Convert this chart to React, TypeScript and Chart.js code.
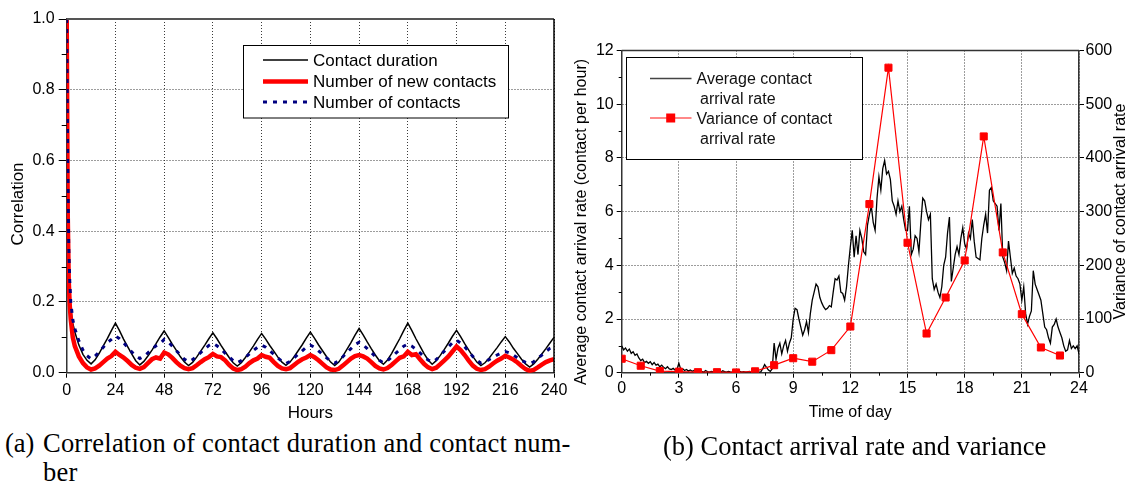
import React, { useEffect, useRef } from 'react';
import { Chart, registerables } from 'chart.js';

Chart.register(...registerables);

const FONT = '"Liberation Sans", Arial, Helvetica, sans-serif';
const SERIF = '"Liberation Serif", "Times New Roman", serif';

// ---------- Chart (a): correlation vs hours ----------
const hours = [
  0, 0.5, 1, 1.5, 2, 3, 4, 6, 8, 10, 12, 14, 16, 18, 20, 22, 24, 26, 28, 30, 32, 34, 36, 38, 40, 42, 44, 46, 48,
  50, 52, 54, 56, 58, 60, 62, 64, 66, 68, 70, 72, 74, 76, 78, 80, 82, 84, 86, 88, 90, 92, 94, 96, 98, 100,
  102, 104, 106, 108, 110, 112, 114, 116, 118, 120, 122, 124, 126, 128, 130, 132, 134, 136, 138, 140, 142, 144,
  146, 148, 150, 152, 154, 156, 158, 160, 162, 164, 166, 168, 170, 172, 174, 176, 178, 180, 182, 184, 186, 188,
  190, 192, 194, 196, 198, 200, 202, 204, 206, 208, 210, 212, 214, 216, 218, 220, 222, 224, 226, 228, 230, 232,
  234, 236, 238, 240,
];

const contactDuration = [
  1.0, 0.55, 0.3, 0.22, 0.18, 0.14, 0.115, 0.078, 0.052, 0.035, 0.025,
  0.0365, 0.055, 0.0756, 0.0963, 0.119, 0.14,
  0.119, 0.095, 0.074, 0.053, 0.034, 0.022,
  0.032, 0.047, 0.064, 0.082, 0.101, 0.118,
  0.1, 0.081, 0.063, 0.045, 0.03, 0.02,
  0.029, 0.044, 0.061, 0.078, 0.096, 0.113,
  0.096, 0.077, 0.06, 0.043, 0.028, 0.019,
  0.028, 0.043, 0.059, 0.076, 0.094, 0.111,
  0.095, 0.077, 0.061, 0.044, 0.03, 0.021,
  0.03, 0.045, 0.062, 0.079, 0.098, 0.115,
  0.098, 0.079, 0.062, 0.045, 0.03, 0.02,
  0.03, 0.047, 0.066, 0.085, 0.106, 0.125,
  0.107, 0.087, 0.068, 0.05, 0.034, 0.024,
  0.036, 0.054, 0.075, 0.096, 0.119, 0.14,
  0.119, 0.096, 0.075, 0.054, 0.036, 0.024,
  0.034, 0.049, 0.066, 0.084, 0.103, 0.12,
  0.102, 0.082, 0.064, 0.046, 0.03, 0.02,
  0.028, 0.041, 0.056, 0.071, 0.087, 0.102,
  0.087, 0.069, 0.054, 0.038, 0.025, 0.016,
  0.025, 0.038, 0.053, 0.068, 0.084, 0.1,
];

const newContacts = [
  1.0, 0.45, 0.26, 0.19, 0.15, 0.1, 0.075, 0.046, 0.027, 0.015, 0.009,
  0.012, 0.02, 0.03, 0.04, 0.047, 0.059,
  0.05, 0.043, 0.033, 0.022, 0.014, 0.011,
  0.016, 0.027, 0.038, 0.043, 0.04, 0.057,
  0.052, 0.042, 0.03, 0.02, 0.013, 0.01,
  0.013, 0.021, 0.03, 0.038, 0.044, 0.053,
  0.046, 0.044, 0.035, 0.022, 0.012, 0.0075,
  0.01, 0.017, 0.027, 0.035, 0.04, 0.05,
  0.045, 0.042, 0.03, 0.019, 0.012, 0.01,
  0.013, 0.022, 0.031, 0.038, 0.043, 0.05,
  0.044, 0.035, 0.025, 0.015, 0.009, 0.0075,
  0.011, 0.02, 0.03, 0.04, 0.047, 0.05,
  0.046, 0.04, 0.03, 0.019, 0.012, 0.009,
  0.013, 0.022, 0.032, 0.042, 0.046, 0.059,
  0.05, 0.052, 0.038, 0.025, 0.015, 0.01,
  0.014, 0.024, 0.035, 0.046, 0.06, 0.074,
  0.064, 0.05, 0.034, 0.02, 0.011, 0.0075,
  0.01, 0.017, 0.026, 0.034, 0.04, 0.048,
  0.043, 0.037, 0.029, 0.019, 0.01, 0.005,
  0.008, 0.015, 0.023, 0.03, 0.035, 0.038,
];

const numContacts = [
  1.0, 0.6, 0.36, 0.26, 0.2, 0.15, 0.125, 0.09, 0.064, 0.048, 0.039,
  0.047, 0.059, 0.072, 0.085, 0.094, 0.104,
  0.096, 0.085, 0.072, 0.059, 0.048, 0.04,
  0.046, 0.056, 0.067, 0.076, 0.082, 0.094,
  0.087, 0.075, 0.062, 0.05, 0.038, 0.031,
  0.037, 0.047, 0.057, 0.067, 0.077, 0.083,
  0.076, 0.067, 0.055, 0.045, 0.034, 0.028,
  0.034, 0.043, 0.053, 0.063, 0.072, 0.078,
  0.072, 0.062, 0.052, 0.042, 0.032, 0.026,
  0.032, 0.042, 0.052, 0.062, 0.072, 0.078,
  0.072, 0.062, 0.052, 0.042, 0.033, 0.027,
  0.034, 0.045, 0.057, 0.068, 0.079, 0.086,
  0.079, 0.068, 0.057, 0.046, 0.035, 0.028,
  0.034, 0.044, 0.055, 0.065, 0.075, 0.081,
  0.075, 0.066, 0.056, 0.045, 0.036, 0.03,
  0.037, 0.049, 0.061, 0.073, 0.085, 0.092,
  0.084, 0.073, 0.06, 0.046, 0.035, 0.027,
  0.031, 0.037, 0.043, 0.05, 0.056, 0.06,
  0.056, 0.05, 0.042, 0.035, 0.029, 0.025,
  0.031, 0.04, 0.05, 0.06, 0.069, 0.074,
];

const corrMinorTicks = [0.1, 0.3, 0.5, 0.7, 0.9];

// ---------- Chart (b): arrival rate vs time of day ----------
const timeOfDay = [0, 1, 2, 3, 4, 5, 6, 7, 8, 9, 10, 11, 12, 13, 14, 15, 16, 17, 18, 19, 20, 21, 22, 23];
const arrivalVariance = [26, 13, 3, 2, 1, 1, 0.5, 2.6, 14, 27, 20.5, 42, 86, 314, 568, 242, 73, 140, 209, 440, 224, 109, 47, 32];

const rateTimes = Array.from({ length: 241 }, (_, i) => i / 10);
const arrivalRate = [
  1.0, 0.85, 0.92, 0.8, 0.88, 0.72, 0.78, 0.65, 0.7, 0.55,
  0.45, 0.5, 0.38, 0.42, 0.35, 0.41, 0.3, 0.38, 0.28, 0.32,
  0.22, 0.28, 0.2, 0.15, 0.22, 0.14, 0.12, 0.16, 0.1, 0.12,
  0.35, 0.12, 0.15, 0.08, 0.12, 0.06, 0.1, 0.05, 0.08, 0.04,
  0.06, 0.03, 0.05, 0.02, 0.08, 0.04, 0.02, 0.05, 0.03, 0.06,
  0.03, 0.05, 0.02, 0.07, 0.04, 0.02, 0.05, 0.03, 0.02, 0.04,
  0.03, 0.02, 0.05, 0.02, 0.04, 0.02, 0.03, 0.05, 0.02, 0.03,
  0.02, 0.04, 0.02, 0.03, 0.15, 0.3, 0.2, 0.1, 0.05, 0.15,
  1.1, 0.5, 0.9, 1.1, 0.7, 1.0, 1.2, 0.8, 1.1, 1.3,
  2.0, 2.4, 2.35, 2.0, 1.7, 1.4, 1.6, 1.9, 1.5, 2.2,
  2.7, 3.0, 3.3, 3.2, 2.8, 2.6, 2.45, 2.35, 2.4, 2.5,
  2.45, 3.0, 3.5, 3.45, 3.6, 3.0, 2.95, 2.7, 3.2, 4.0,
  4.7, 5.3, 4.3, 5.1, 4.4, 5.3, 5.0, 4.5, 4.4, 5.5,
  5.9, 6.2, 5.6, 5.3, 6.5, 7.3, 6.8, 7.6, 7.9, 7.4,
  7.5, 7.2, 6.4, 6.2, 5.9, 6.4, 6.0, 6.2, 5.7, 5.3,
  5.3, 6.2, 4.4, 4.6, 5.1, 5.0, 4.5, 5.6, 6.5, 6.4,
  6.0, 5.7, 5.9, 3.5, 3.1, 3.3, 3.0, 2.8, 3.2, 4.0,
  4.3, 5.2, 5.8, 3.4, 3.9, 4.4, 4.7, 4.4, 5.0, 5.4,
  4.8, 4.6, 5.2, 5.0, 5.7, 4.9, 4.3, 4.25, 4.2, 5.0,
  5.5, 5.9, 5.2, 6.8, 6.9, 6.4, 6.3, 6.2, 5.3, 6.3,
  4.3, 4.1, 3.8, 4.9, 4.3, 3.7, 3.9, 3.6, 3.5, 3.3,
  2.7, 3.2, 2.2, 1.8, 2.1, 2.3, 3.8, 3.3, 3.1, 2.9,
  2.7, 2.2, 1.7, 1.6, 1.3, 1.1, 1.7, 1.8, 2.0, 1.7,
  1.5, 1.3, 1.0, 0.8, 0.85, 1.2, 0.9, 1.0, 0.9, 1.0,
  0.7,
];

const rateMinorY = [1, 3, 5, 7, 9, 11];
const timeMinorX = [1.5, 4.5, 7.5, 10.5, 13.5, 16.5, 19.5, 22.5];

// ---------- helpers ----------
function seg(ctx: CanvasRenderingContext2D, x1: number, y1: number, x2: number, y2: number) {
  ctx.beginPath();
  ctx.moveTo(x1, y1);
  ctx.lineTo(x2, y2);
  ctx.stroke();
}

function rotatedText(ctx: CanvasRenderingContext2D, text: string, x: number, y: number, font: string) {
  ctx.save();
  ctx.translate(x, y);
  ctx.rotate(-Math.PI / 2);
  ctx.font = font;
  ctx.fillStyle = '#000';
  ctx.textAlign = 'center';
  ctx.textBaseline = 'middle';
  ctx.fillText(text, 0, 0);
  ctx.restore();
}

const chartADecor = {
  id: 'chartADecor',
  afterDraw(chart: any) {
    const { ctx, chartArea: a, scales } = chart;
    ctx.save();
    ctx.setLineDash([]);
    ctx.strokeStyle = '#555';
    ctx.lineWidth = 2;
    seg(ctx, a.left, a.top, a.right, a.top);
    ctx.strokeStyle = '#000';
    ctx.lineWidth = 1.5;
    seg(ctx, a.right, a.top, a.right, a.bottom);
    ctx.lineWidth = 1;
    ctx.strokeStyle = '#000';
    for (const v of corrMinorTicks) {
      const y = Math.round(scales.y.getPixelForValue(v)) + 0.5;
      seg(ctx, a.left - 5, y, a.left, y);
    }
    rotatedText(ctx, 'Correlation', 18.5, 204, `17px ${FONT}`);
    const bx = 243.5, by = 45.5, bw = 265, bh = 72.5;
    ctx.fillStyle = '#fff';
    ctx.fillRect(bx, by, bw, bh);
    ctx.strokeStyle = '#000';
    ctx.lineWidth = 1;
    ctx.strokeRect(bx, by, bw, bh);
    const rows = [60, 81.5, 102];
    const ds = chart.data.datasets;
    ctx.font = `17px ${FONT}`;
    ctx.textBaseline = 'middle';
    ctx.textAlign = 'left';
    ds.forEach((d: any, i: number) => {
      ctx.strokeStyle = d.borderColor;
      ctx.lineWidth = d.borderWidth;
      ctx.setLineDash(d.borderDash || []);
      seg(ctx, 263, rows[i], 308, rows[i]);
      ctx.setLineDash([]);
      ctx.fillStyle = '#000';
      ctx.fillText(d.label, 313, rows[i] + 1);
    });
    ctx.restore();
  },
};

const chartBDecor = {
  id: 'chartBDecor',
  afterDraw(chart: any) {
    const { ctx, chartArea: a, scales } = chart;
    ctx.save();
    ctx.setLineDash([]);
    ctx.strokeStyle = '#333';
    ctx.lineWidth = 1.5;
    seg(ctx, a.left, a.top, a.right, a.top);
    ctx.lineWidth = 1;
    ctx.strokeStyle = '#000';
    for (const v of rateMinorY) {
      const y = Math.round(scales.y.getPixelForValue(v)) + 0.5;
      seg(ctx, a.left - 3, y, a.left, y);
    }
    for (const v of timeMinorX) {
      const x = Math.round(scales.x.getPixelForValue(v)) + 0.5;
      seg(ctx, x, a.bottom, x, a.bottom + 3);
    }
    rotatedText(ctx, 'Average contact arrival rate (contact per hour)', 21.5, 222, `16px ${FONT}`);
    rotatedText(ctx, 'Variance of contact arrival rate', 561, 211.5, `16px ${FONT}`);
    const bx = 66.5, by = 57.5, bw = 236, bh = 102;
    ctx.fillStyle = '#fff';
    ctx.fillRect(bx, by, bw, bh);
    ctx.strokeStyle = '#000';
    ctx.lineWidth = 1;
    ctx.strokeRect(bx, by, bw, bh);
    const ds = chart.data.datasets;
    const avg = ds[1];
    const vr = ds[0];
    ctx.strokeStyle = '#444';
    ctx.lineWidth = avg.borderWidth + 0.3;
    seg(ctx, 90, 78.5, 131.5, 78.5);
    ctx.strokeStyle = '#ff6060';
    ctx.lineWidth = vr.borderWidth + 0.3;
    seg(ctx, 90, 118, 131.5, 118);
    ctx.fillStyle = vr.pointBackgroundColor;
    ctx.fillRect(106.2, 113.5, 9, 9);
    ctx.font = `16px ${FONT}`;
    ctx.fillStyle = '#111';
    ctx.textBaseline = 'middle';
    ctx.textAlign = 'left';
    ctx.fillText('Average contact', 136.5, 79.5);
    ctx.fillText('arrival rate', 140, 99.5);
    ctx.fillText('Variance of contact', 136.5, 119.5);
    ctx.fillText('arrival rate', 140, 139.5);
    ctx.restore();
  },
};

export default function App() {
  const refA = useRef<HTMLCanvasElement | null>(null);
  const refB = useRef<HTMLCanvasElement | null>(null);

  useEffect(() => {
    const tickFont = { family: FONT, size: 16 };
    const gridBase = {
      color: '#3a3a3a',
      lineWidth: 1,
      tickColor: '#000',
      tickWidth: 1,
      tickBorderDash: [],
    };

    const chartA = new Chart(refA.current as HTMLCanvasElement, {
      type: 'line',
      data: {
        datasets: [
          {
            label: 'Contact duration',
            data: hours.map((h, i) => ({ x: h, y: contactDuration[i] })),
            borderColor: '#000000',
            borderWidth: 1.5,
            pointRadius: 0,
            order: 3,
          },
          {
            label: 'Number of new contacts',
            data: hours.map((h, i) => ({ x: h, y: newContacts[i] })),
            borderColor: '#ff0000',
            borderWidth: 4.5,
            pointRadius: 0,
            order: 2,
          },
          {
            label: 'Number of contacts',
            data: hours.map((h, i) => ({ x: h, y: numContacts[i] })),
            borderColor: '#000080',
            borderWidth: 3,
            borderDash: [4, 6],
            pointRadius: 0,
            order: 1,
          },
        ],
      },
      options: {
        responsive: false,
        animation: false,
        devicePixelRatio: 1,
        layout: { padding: { top: 19, right: 21, left: 0, bottom: 0 } },
        plugins: { legend: { display: false }, tooltip: { enabled: false } },
        scales: {
          x: {
            type: 'linear',
            min: 0,
            max: 240,
            ticks: { stepSize: 24, color: '#000', font: tickFont, padding: 3, maxRotation: 0, autoSkip: false },
            grid: { ...gridBase, tickLength: 5 },
            border: { color: '#333', width: 1.5, dash: [1, 2] },
            title: { display: true, text: 'Hours', color: '#000', font: { family: FONT, size: 17 }, padding: { top: 0, bottom: 1 } },
            afterFit: (s: any) => { s.height = 52.3; },
          },
          y: {
            type: 'linear',
            min: 0,
            max: 1,
            ticks: { stepSize: 0.2, color: '#000', font: tickFont, padding: 4, callback: (v: any) => Number(v).toFixed(1) },
            grid: { ...gridBase, tickLength: 8 },
            border: { color: '#333', width: 1.5, dash: [1, 2] },
            afterFit: (s: any) => { s.width = 66.7; },
          },
        },
      } as any,
      plugins: [chartADecor],
    });

    const chartB = new Chart(refB.current as HTMLCanvasElement, {
      type: 'line',
      data: {
        datasets: [
          {
            label: 'Variance of contact arrival rate',
            data: timeOfDay.map((t, i) => ({ x: t, y: arrivalVariance[i] })),
            borderColor: '#ff0000',
            borderWidth: 1.2,
            pointStyle: 'rect',
            pointRadius: 5,
            pointBackgroundColor: '#ff0000',
            pointBorderColor: '#ff0000',
            pointBorderWidth: 1,
            yAxisID: 'y1',
            order: 1,
          },
          {
            label: 'Average contact arrival rate',
            data: rateTimes.map((t, i) => ({ x: t, y: arrivalRate[i] })),
            borderColor: '#000000',
            borderWidth: 1.3,
            pointRadius: 0,
            yAxisID: 'y',
            order: 2,
          },
        ],
      },
      options: {
        responsive: false,
        animation: false,
        devicePixelRatio: 1,
        layout: { padding: { top: 50.5, right: 0, left: 0, bottom: 0 } },
        plugins: { legend: { display: false }, tooltip: { enabled: false } },
        scales: {
          x: {
            type: 'linear',
            min: 0,
            max: 24,
            ticks: { stepSize: 3, color: '#000', font: tickFont, padding: 1, maxRotation: 0, autoSkip: false },
            grid: { ...gridBase, tickLength: 5 },
            border: { color: '#333', width: 1.5, dash: [1, 2] },
            title: { display: true, text: 'Time of day', color: '#000', font: { family: FONT, size: 16 }, padding: { top: 0, bottom: 3 } },
            afterFit: (s: any) => { s.height = 52.3; },
          },
          y: {
            type: 'linear',
            position: 'left',
            min: 0,
            max: 12,
            ticks: { stepSize: 2, color: '#000', font: tickFont, padding: 3 },
            grid: { ...gridBase, tickLength: 5 },
            border: { color: '#333', width: 1.5, dash: [1, 2] },
            afterFit: (s: any) => { s.width = 61.7; },
          },
          y1: {
            type: 'linear',
            position: 'right',
            min: 0,
            max: 600,
            ticks: { stepSize: 100, color: '#000', font: tickFont, padding: 1.5 },
            grid: { ...gridBase, drawOnChartArea: false, tickLength: 5 },
            border: { color: '#333', width: 1.5 },
            afterFit: (s: any) => { s.width = 50; },
          },
        },
      } as any,
      plugins: [chartBDecor],
    });

    return () => {
      chartA.destroy();
      chartB.destroy();
    };
  }, []);

  return (
    <div style={{ position: 'fixed', left: 0, top: 0, width: 1129, height: 486, background: '#fff', overflow: 'hidden' }}>
      <canvas ref={refA} width={575} height={425} style={{ position: 'absolute', left: 0, top: 0 }} />
      <canvas ref={refB} width={569} height={425} style={{ position: 'absolute', left: 560, top: 0 }} />
      <div style={{ position: 'absolute', left: 5, top: 429, fontFamily: SERIF, fontSize: 26.5, lineHeight: '29px', color: '#000', display: 'flex', whiteSpace: 'nowrap' }}>
        <span style={{ width: 38 }}>(a)</span>
        <span style={{ letterSpacing: '0.2px' }}>Correlation of contact duration and contact num-<br />ber</span>
      </div>
      <div style={{ position: 'absolute', left: 663, top: 432, fontFamily: SERIF, fontSize: 26.5, lineHeight: '29px', color: '#000', whiteSpace: 'nowrap' }}>
        (b) Contact arrival rate and variance
      </div>
    </div>
  );
}
